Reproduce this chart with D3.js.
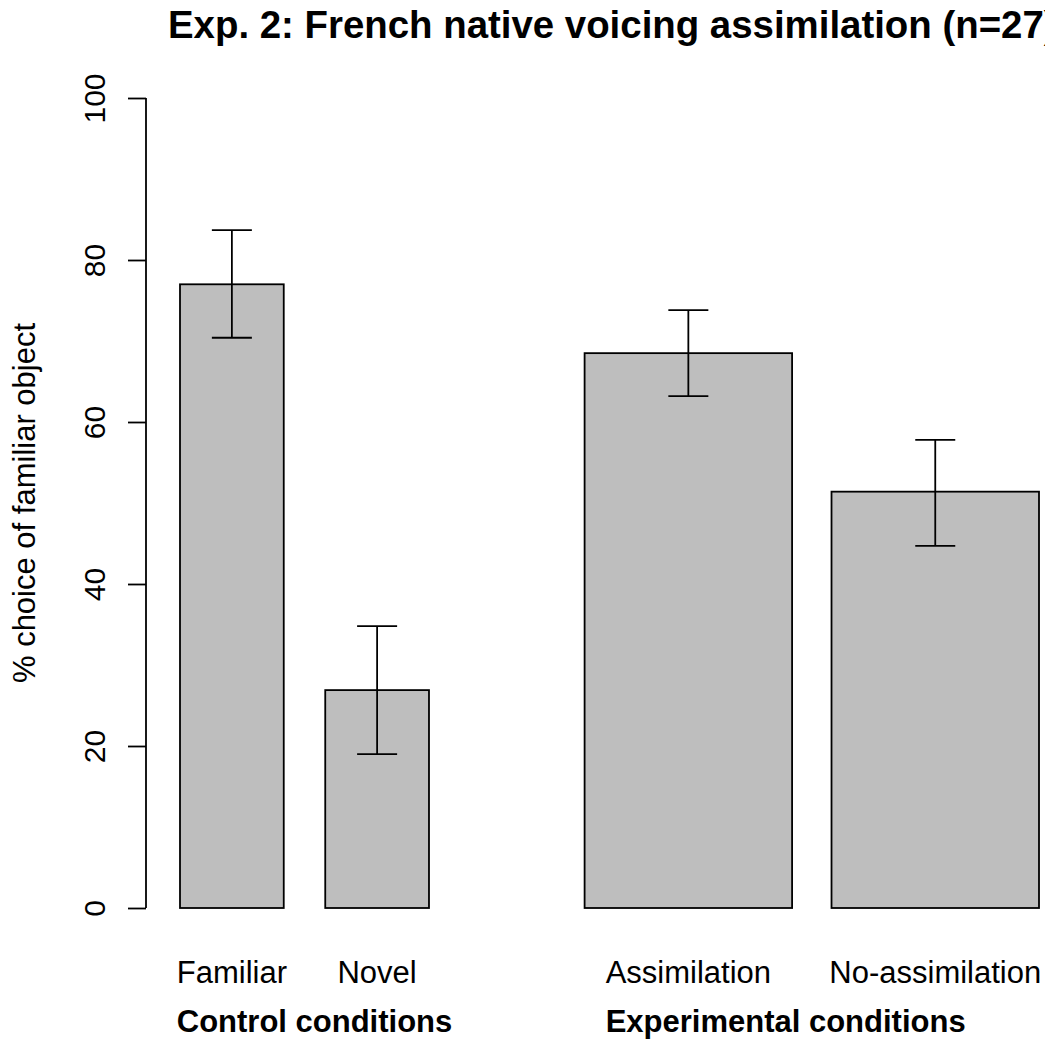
<!DOCTYPE html>
<html>
<head>
<meta charset="utf-8">
<script src="https://cdn.jsdelivr.net/npm/d3@7"></script>
<style>
  html, body { margin: 0; padding: 0; background: #fff; }
  svg { display: block; font-family: "Liberation Sans", Arial, Helvetica, sans-serif; }
</style>
</head>
<body>
<svg id="chart" width="1045" height="1039"></svg>
<script>
// ---- data ----
const categories = ["Familiar", "Novel", "Assimilation", "No-assimilation"];
const means = [77.0, 26.9, 68.5, 51.4];
const upper = [83.7, 34.8, 73.8, 57.8];
const lower = [70.4, 19.0, 63.2, 44.7];
const groupLabels = ["Control conditions", "Experimental conditions"];
const groupFirstIndex = [0, 2];
const yTicks = [0, 20, 40, 60, 80, 100];
const titleText = "Exp. 2: French native voicing assimilation (n=27)";
const yTitle = "% choice of familiar object";

// ---- layout (in bar units) ----
const barUnits = [1, 1, 2, 2];
const gapUnits = [0, 0.4, 1.5, 0.38];
let acc = 0;
const barStart = barUnits.map((w, i) => { acc += gapUnits[i]; const s = acc; acc += w; return s; });
const totalUnits = acc;

const svg = d3.select("#chart");
const x = d3.scaleLinear().domain([0, totalUnits]).range([180, 1039]);
const y = d3.scaleLinear().domain([0, 100]).range([908, 98]);

// bars
svg.append("g").selectAll("rect").data(categories).join("rect")
  .attr("x", (d, i) => x(barStart[i]))
  .attr("width", (d, i) => x(barStart[i] + barUnits[i]) - x(barStart[i]))
  .attr("y", (d, i) => y(means[i]))
  .attr("height", (d, i) => y(0) - y(means[i]))
  .attr("fill", "#bebebe")
  .attr("stroke", "#000")
  .attr("stroke-width", 1.8);

// error bars
const capHalf = 20;
const eb = svg.append("g").attr("stroke", "#000").attr("stroke-width", 1.8);
categories.forEach((c, i) => {
  const cx = x(barStart[i] + barUnits[i] / 2);
  eb.append("line").attr("x1", cx).attr("x2", cx).attr("y1", y(lower[i])).attr("y2", y(upper[i]));
  eb.append("line").attr("x1", cx - capHalf).attr("x2", cx + capHalf).attr("y1", y(upper[i])).attr("y2", y(upper[i]));
  eb.append("line").attr("x1", cx - capHalf).attr("x2", cx + capHalf).attr("y1", y(lower[i])).attr("y2", y(lower[i]));
});

// y axis
const yAxis = d3.axisLeft(y).tickValues(yTicks).tickSize(18).tickPadding(0).tickFormat(d3.format("d"));
const ag = svg.append("g").attr("transform", "translate(146,0)").call(yAxis);
ag.select(".domain").attr("d", `M0,${y(0)}V${y(100)}`).attr("stroke-width", 1.8);
ag.selectAll(".tick line").attr("stroke-width", 1.8);
ag.selectAll(".tick text")
  .attr("x", null).attr("dy", null)
  .attr("transform", "translate(-41,0) rotate(-90)")
  .attr("text-anchor", "middle")
  .attr("font-size", 30)
  .attr("font-family", "Liberation Sans, Arial, sans-serif")
  .attr("fill", "#000");

// y title
svg.append("text")
  .attr("transform", `translate(35,${y(50)}) rotate(-90)`)
  .attr("text-anchor", "middle")
  .attr("font-size", 31)
  .text(yTitle);

// category labels
const catText = svg.append("g").selectAll("text").data(categories).join("text")
  .attr("x", (d, i) => x(barStart[i] + barUnits[i] / 2))
  .attr("y", 983)
  .attr("text-anchor", "middle")
  .attr("font-size", 31)
  .text(d => d);

// group labels, left-aligned with first category label of each group
const catNodes = catText.nodes();
groupLabels.forEach((g, j) => {
  const bb = catNodes[groupFirstIndex[j]].getBBox();
  svg.append("text")
    .attr("x", bb.x)
    .attr("y", 1032)
    .attr("font-size", 31)
    .attr("font-weight", "bold")
    .text(g);
});

// title (the reference title runs past the right edge; its ")" is cut off)
svg.append("text")
  .attr("x", 168)
  .attr("y", 38)
  .attr("font-size", 38.4)
  .attr("font-weight", "bold")
  .text(titleText);
</script>
</body>
</html>
